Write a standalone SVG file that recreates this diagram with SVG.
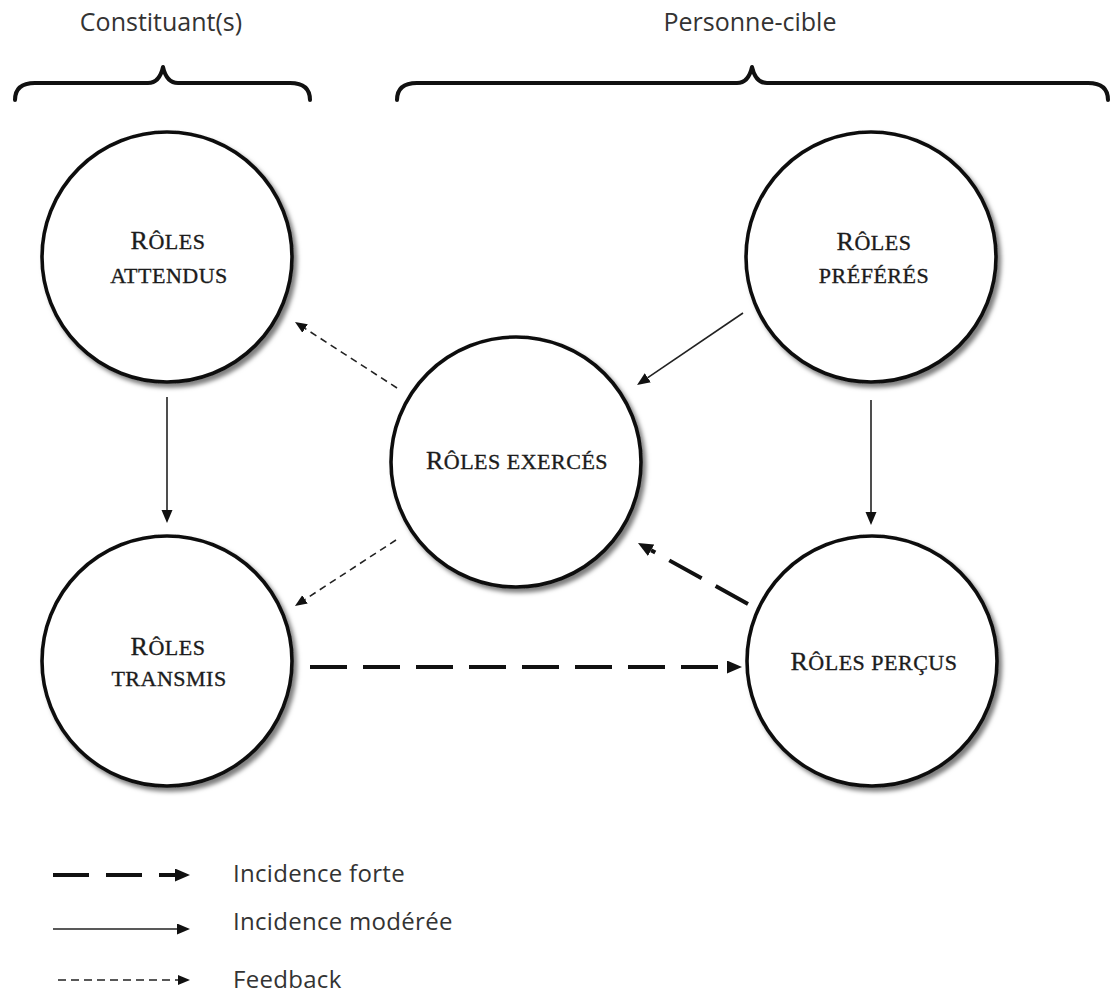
<svg xmlns="http://www.w3.org/2000/svg" width="1119" height="993" viewBox="0 0 1119 993">
  <style>
    .bg { fill: #ffffff; }
    .node { fill: #ffffff; stroke: #111111; stroke-width: 3.6; }
    .lbl { font-family: "Liberation Serif", "Times New Roman", serif; fill: #1c1c1c; stroke: #1c1c1c; stroke-width: 0.35; text-anchor: middle; letter-spacing: 0.5px; }
    .cap { font-size: 26px; }
    .sc { font-size: 22px; }
    .head { font-family: "Open Sans", "Liberation Sans", sans-serif; font-size: 25px; fill: #333333; text-anchor: middle; }
    .legend { font-family: "Open Sans", "Liberation Sans", sans-serif; font-size: 24px; fill: #333333; letter-spacing: 0.3px; }
    .brace { fill: none; stroke: #111111; stroke-width: 4; stroke-linecap: round; stroke-linejoin: round; }
    .moderate { stroke: #222222; stroke-width: 1.6; fill: none; }
    .strong { stroke: #111111; stroke-width: 4; fill: none; stroke-dasharray: 37 16; }
    .feedback { stroke: #222222; stroke-width: 1.6; fill: none; stroke-dasharray: 7 5; }
  </style>
  <defs>
    <filter id="shadow" x="-10%" y="-10%" width="125%" height="125%">
      <feDropShadow dx="3.5" dy="4" stdDeviation="2" flood-color="#000000" flood-opacity="0.5"/>
    </filter>
    <marker id="head-moderate" markerUnits="userSpaceOnUse" markerWidth="14" markerHeight="12" refX="0" refY="5.5" orient="auto">
      <path d="M0,0 L13,5.5 L0,11 z" fill="#111111"/>
    </marker>
    <marker id="head-strong" markerUnits="userSpaceOnUse" markerWidth="16" markerHeight="14" refX="0" refY="6.5" orient="auto">
      <path d="M0,0 L15,6.5 L0,13 z" fill="#111111"/>
    </marker>
    <marker id="head-feedback" markerUnits="userSpaceOnUse" markerWidth="13" markerHeight="11" refX="0" refY="5" orient="auto">
      <path d="M0,0 L12,5 L0,10 z" fill="#111111"/>
    </marker>
  </defs>

  <rect class="bg" x="0" y="0" width="1119" height="993"/>

  <!-- group headers with braces -->
  <g id="header-constituants">
    <text class="head" x="161" y="31">Constituant(s)</text>
    <path class="brace" d="M15,100 C15,88 22,83 35,83 L148,83 C157,83 161,76 163,67 C165,76 169,83 178,83 L290,83 C303,83 310,88 310,100"/>
  </g>
  <g id="header-personne-cible">
    <text class="head" x="750" y="31">Personne-cible</text>
    <path class="brace" d="M397,100 C397,88 404,83 417,83 L737,83 C746,83 750,76 752,67 C754,76 758,83 767,83 L1088,83 C1101,83 1108,88 1108,100"/>
  </g>

  <!-- role nodes -->
  <g id="roles-attendus">
    <circle class="node" cx="167" cy="257" r="125" filter="url(#shadow)"/>
    <text class="lbl" x="168" y="249"><tspan class="cap">R</tspan><tspan class="sc">ÔLES</tspan></text>
    <text class="lbl sc" x="169" y="283">ATTENDUS</text>
  </g>
  <g id="roles-preferes">
    <circle class="node" cx="871" cy="257" r="125" filter="url(#shadow)"/>
    <text class="lbl" x="874" y="250"><tspan class="cap">R</tspan><tspan class="sc">ÔLES</tspan></text>
    <text class="lbl sc" x="874" y="283">PRÉFÉRÉS</text>
  </g>
  <g id="roles-exerces">
    <circle class="node" cx="516" cy="462" r="125" filter="url(#shadow)"/>
    <text class="lbl" x="517" y="469"><tspan class="cap">R</tspan><tspan class="sc">ÔLES EXERCÉS</tspan></text>
  </g>
  <g id="roles-transmis">
    <circle class="node" cx="167" cy="661" r="125" filter="url(#shadow)"/>
    <text class="lbl" x="168" y="655"><tspan class="cap">R</tspan><tspan class="sc">ÔLES</tspan></text>
    <text class="lbl sc" x="169" y="686">TRANSMIS</text>
  </g>
  <g id="roles-percus">
    <circle class="node" cx="872" cy="661" r="125" filter="url(#shadow)"/>
    <text class="lbl" x="874" y="670"><tspan class="cap">R</tspan><tspan class="sc">ÔLES PERÇUS</tspan></text>
  </g>

  <!-- connectors -->
  <g id="connectors">
    <line class="moderate" x1="167" y1="397" x2="167" y2="510" marker-end="url(#head-moderate)"/>
    <line class="moderate" x1="871" y1="400" x2="871" y2="512" marker-end="url(#head-moderate)"/>
    <line class="moderate" x1="743" y1="313" x2="647.8" y2="377.7" marker-end="url(#head-moderate)"/>
    <line class="feedback" x1="397" y1="388" x2="305.1" y2="328.5" marker-end="url(#head-feedback)"/>
    <line class="feedback" x1="396" y1="540" x2="305" y2="599.4" marker-end="url(#head-feedback)"/>
    <line class="strong" x1="748" y1="604" x2="651.1" y2="550.3" marker-end="url(#head-strong)"/>
    <line class="strong" x1="310" y1="667" x2="727" y2="667" marker-end="url(#head-strong)"/>
  </g>

  <!-- legend -->
  <g id="legend">
    <line class="strong" x1="53" y1="875" x2="175" y2="875" style="stroke-dasharray: 36 17" marker-end="url(#head-strong)"/>
    <text class="legend" x="233" y="882">Incidence forte</text>
    <line class="moderate" x1="53" y1="929" x2="177" y2="929" marker-end="url(#head-moderate)"/>
    <text class="legend" x="233" y="930">Incidence modérée</text>
    <line class="feedback" x1="58" y1="980" x2="178" y2="980" style="stroke-dasharray: 8 5" marker-end="url(#head-feedback)"/>
    <text class="legend" x="233" y="988">Feedback</text>
  </g>
</svg>
